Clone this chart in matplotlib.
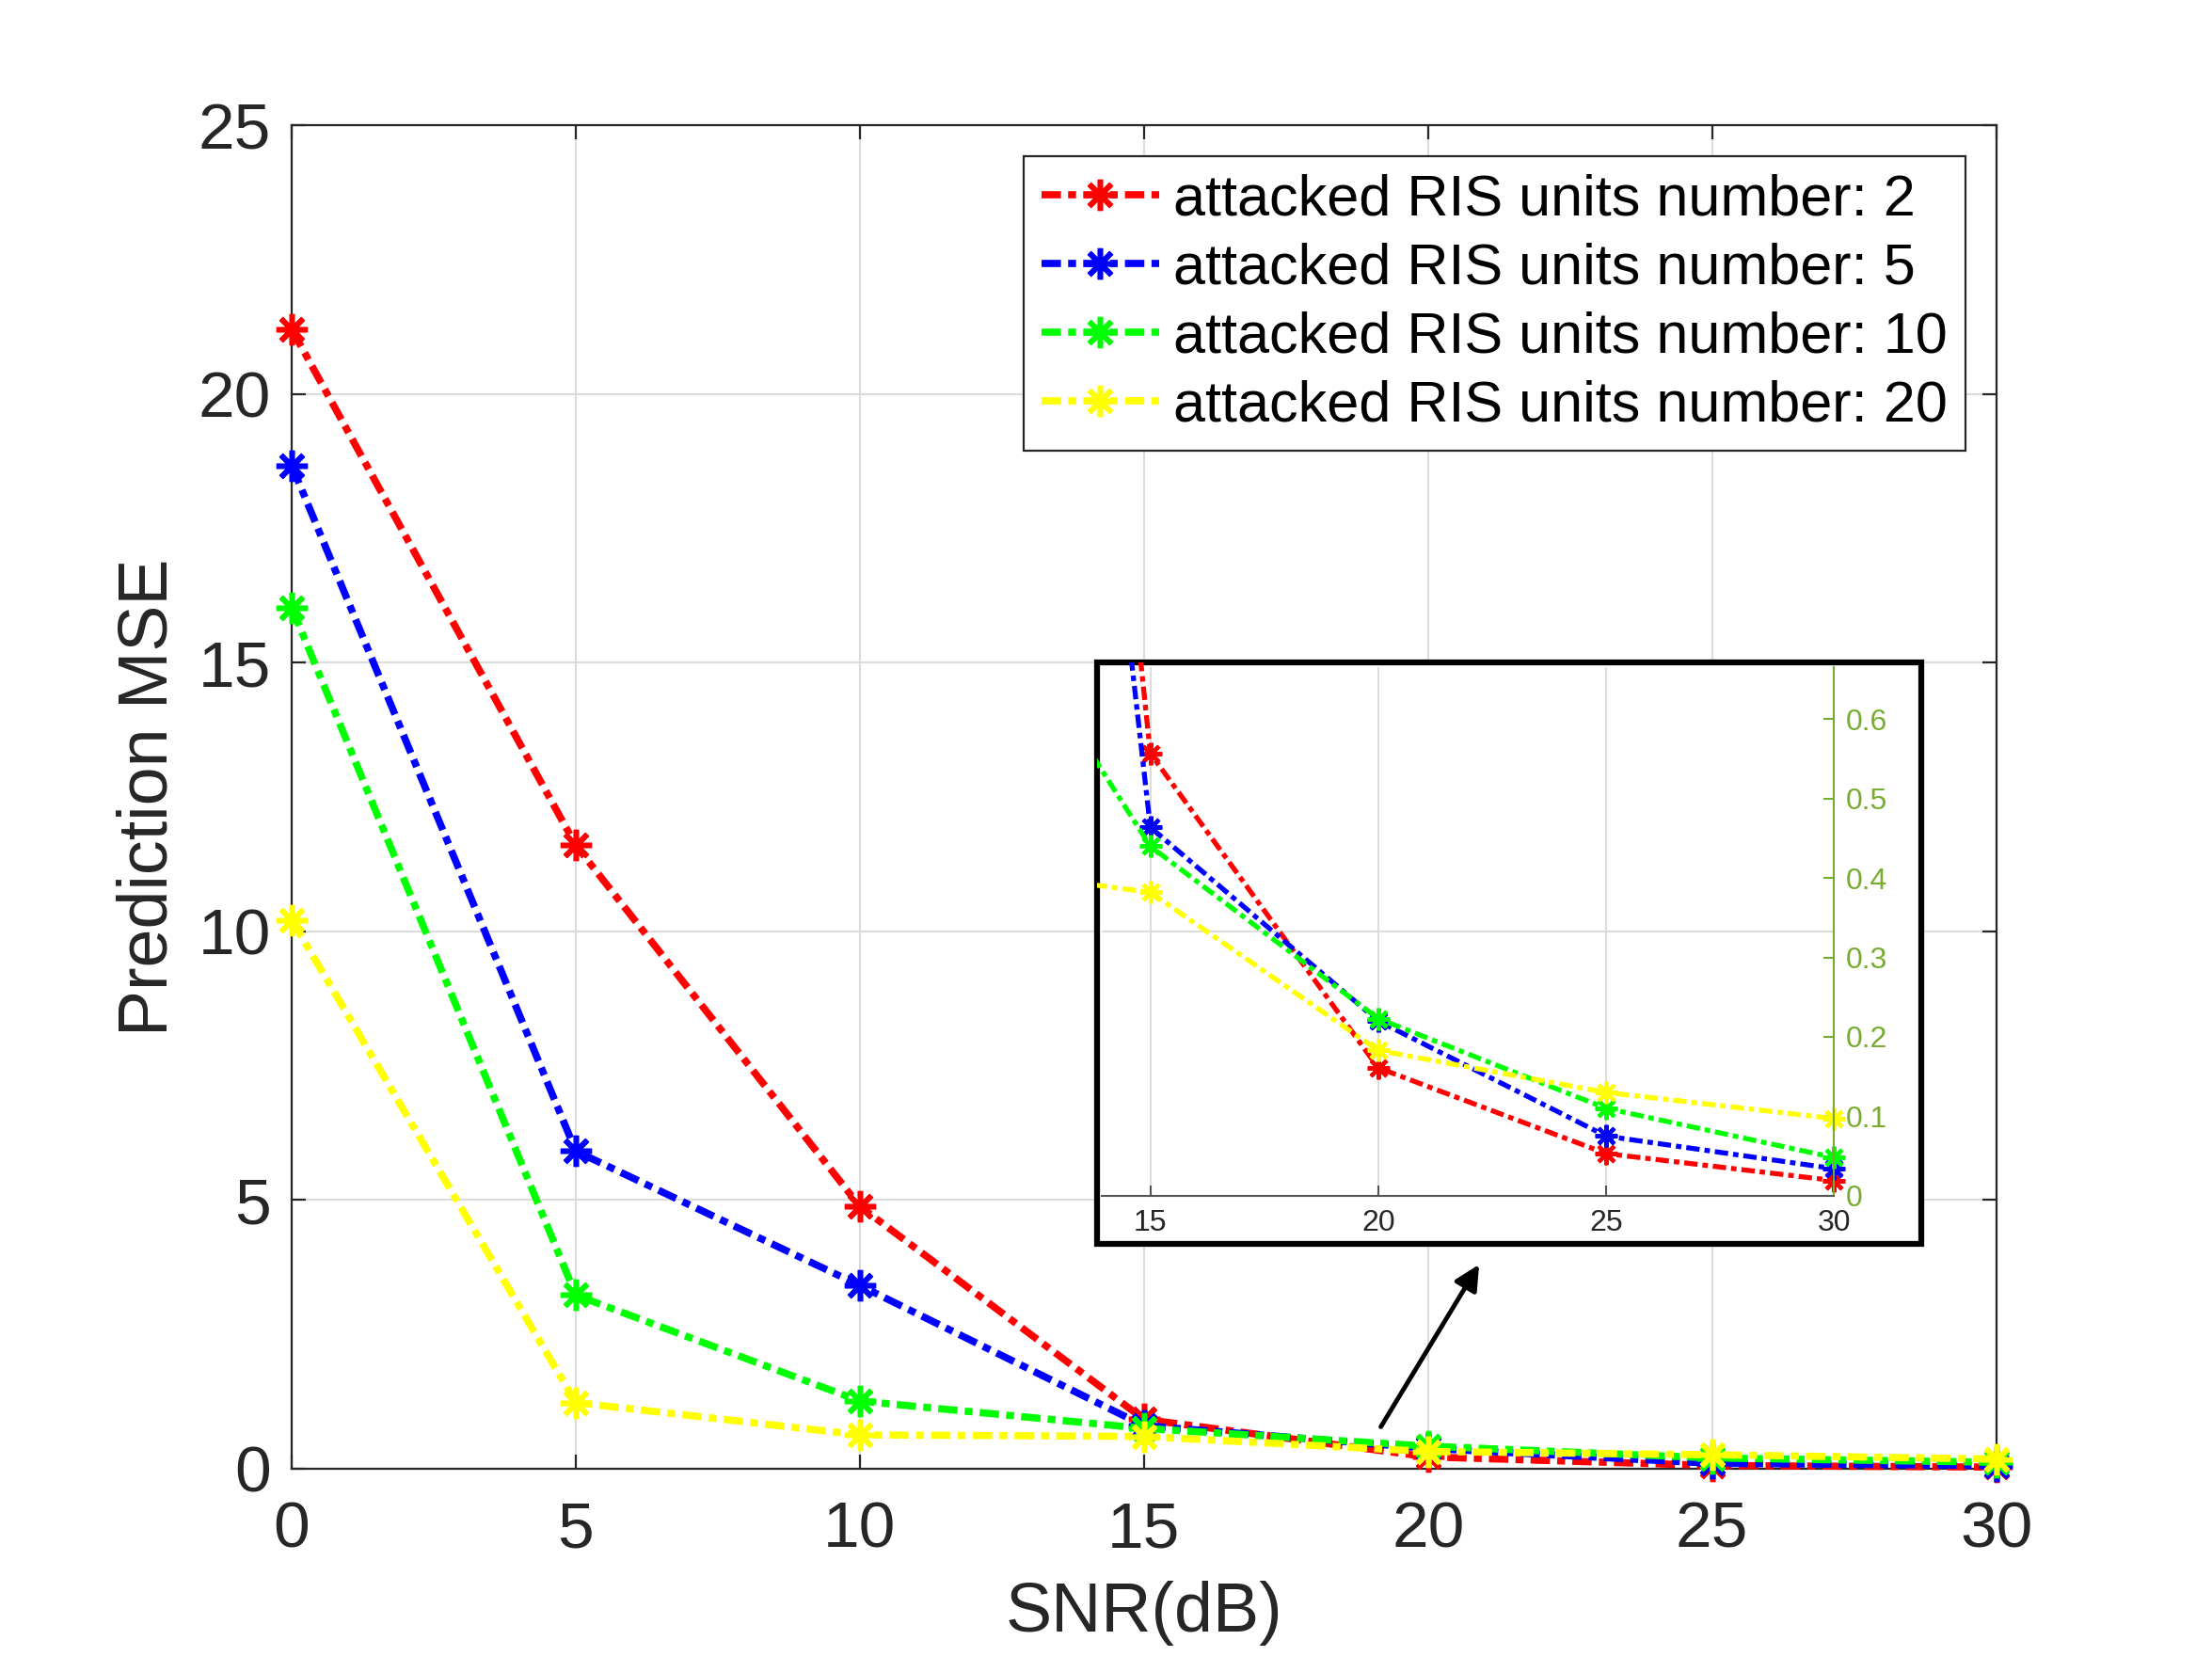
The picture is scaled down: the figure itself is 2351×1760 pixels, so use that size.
import matplotlib
matplotlib.use("Agg")
import matplotlib.pyplot as plt
from matplotlib.patches import Rectangle
from matplotlib.lines import Line2D
from matplotlib.transforms import blended_transform_factory

# ---------------- data ----------------
snr = [0, 5, 10, 15, 20, 25, 30]
mse_2 = [21.2, 11.6, 4.88, 0.92, 0.22, 0.06, 0.03]
mse_5 = [18.67, 5.91, 3.41, 0.80, 0.38, 0.10, 0.06]
mse_10 = [16.02, 3.23, 1.26, 0.75, 0.42, 0.20, 0.12]
mse_20 = [10.21, 1.23, 0.63, 0.60, 0.32, 0.26, 0.18]

# zoomed inset values
zoom_snr = [10, 15, 20, 25, 30]
zoom_2 = [3.3, 0.557, 0.161, 0.053, 0.019]
zoom_5 = [3.0, 0.464, 0.220, 0.075, 0.034]
zoom_10 = [0.89, 0.440, 0.223, 0.110, 0.048]
zoom_20 = [0.42, 0.382, 0.183, 0.130, 0.097]

labels = ["attacked RIS units number: 2", "attacked RIS units number: 5",
          "attacked RIS units number: 10", "attacked RIS units number: 20"]
colors = ["#ff0000", "#0000ff", "#00ff00", "#ffff00"]
xticks = [0, 5, 10, 15, 20, 25, 30]
yticks = [0, 5, 10, 15, 20, 25]
zoom_xticks = [15, 20, 25, 30]
zoom_yticks = [0, 0.1, 0.2, 0.3, 0.4, 0.5, 0.6]
zoom_yticklabels = ["0", "0.1", "0.2", "0.3", "0.4", "0.5", "0.6"]

plt.rcParams['font.family'] = ['Liberation Sans', 'DejaVu Sans']
AX_COL = "#262626"
GRID_COL = "#dcdcdc"
INSET_YCOL = "#77ac30"

fig = plt.figure(figsize=(23.51, 17.60), dpi=100)
ax = fig.add_axes([0.1319, 0.1131, 0.7705, 0.8113])

dash = (2.7, 1.0, 1.1, 1.0)
series = [mse_2, mse_5, mse_10, mse_20]
for ys, c, lab in zip(series, colors, labels):
    ax.plot(snr, ys, color=c, lw=5.5, dashes=dash, marker=(8, 2, 0), ms=24,
            mew=4, mec=c, label=lab, clip_on=False, zorder=3)

ax.set_xlim(0, 30)
ax.set_ylim(0, 25)
ax.set_xticks(xticks)
ax.set_yticks(yticks)
ax.grid(True, color=GRID_COL, lw=1.5)
ax.set_axisbelow(True)
for s in ax.spines.values():
    s.set_color(AX_COL)
    s.set_linewidth(1.6)
ax.tick_params(direction='in', length=11, width=1.6, colors=AX_COL,
               labelsize=50, top=True, right=True)
ax.tick_params(axis='x', pad=24)
ax.tick_params(axis='y', pad=16)
ax.set_xlabel("SNR(dB)", fontsize=53, color=AX_COL, labelpad=16)
ax.set_ylabel("Prediction MSE", fontsize=53, color=AX_COL, labelpad=13)

leg = ax.legend(loc='upper right', bbox_to_anchor=(0.9818, 0.9767),
                fontsize=44, handlelength=2.05, handletextpad=0.25,
                labelspacing=0.26, borderpad=0.3, borderaxespad=0,
                fancybox=False, framealpha=1, edgecolor=AX_COL)
leg.get_frame().set_linewidth(1.6)

# arrow pointing to inset
ax.annotate("", xy=(20.9, 3.8), xytext=(19.17, 0.78),
            arrowprops=dict(arrowstyle='-|>', lw=3.5, color='black',
                            mutation_scale=40, shrinkA=0, shrinkB=0))

# ---------------- inset ----------------
box = Rectangle((0.4958, 0.2491), 0.3729, 0.3508, transform=fig.transFigure,
                fill=True, facecolor='white', edgecolor='black', lw=4.5,
                zorder=5)
fig.patches.append(box)

axin = fig.add_axes([0.4980, 0.2780, 0.3311, 0.3193], zorder=6)
axin.patch.set_alpha(0)
zseries = [zoom_2, zoom_5, zoom_10, zoom_20]
for ys, c in zip(zseries, colors):
    ln, = axin.plot(zoom_snr, ys, color=c, lw=3.8, dashes=dash,
                    marker=(8, 2, 0), ms=17, mew=3, mec=c)
    ln.set_clip_path(box)
axin.set_xlim(13.93, 30)
axin.set_ylim(0, 0.666)
axin.set_xticks(zoom_xticks)
axin.set_yticks(zoom_yticks)
axin.set_yticklabels(zoom_yticklabels)
axin.grid(True, axis='x', color=GRID_COL, lw=1.5)
axin.set_axisbelow(True)
# main axis horizontal gridline visible through the inset
gl = Line2D([0, 1], [10, 10],
            transform=blended_transform_factory(axin.transAxes, ax.transData),
            color=GRID_COL, lw=1.5, zorder=0)
axin.add_line(gl)
axin.spines['top'].set_visible(False)
axin.spines['left'].set_visible(False)
axin.spines['bottom'].set_color("#555555")
axin.spines['bottom'].set_linewidth(1.5)
axin.spines['right'].set_color(INSET_YCOL)
axin.spines['right'].set_linewidth(1.5)
axin.yaxis.tick_right()
axin.tick_params(axis='x', direction='in', length=8, width=1.5, colors="#555555",
                 labelsize=23, labelcolor="#262626", pad=10)
axin.tick_params(axis='y', direction='in', length=8, width=1.5, colors=INSET_YCOL,
                 labelsize=23, labelcolor=INSET_YCOL, pad=9, left=False, right=True)

fig.savefig("out.png", dpi=100, facecolor='white')
